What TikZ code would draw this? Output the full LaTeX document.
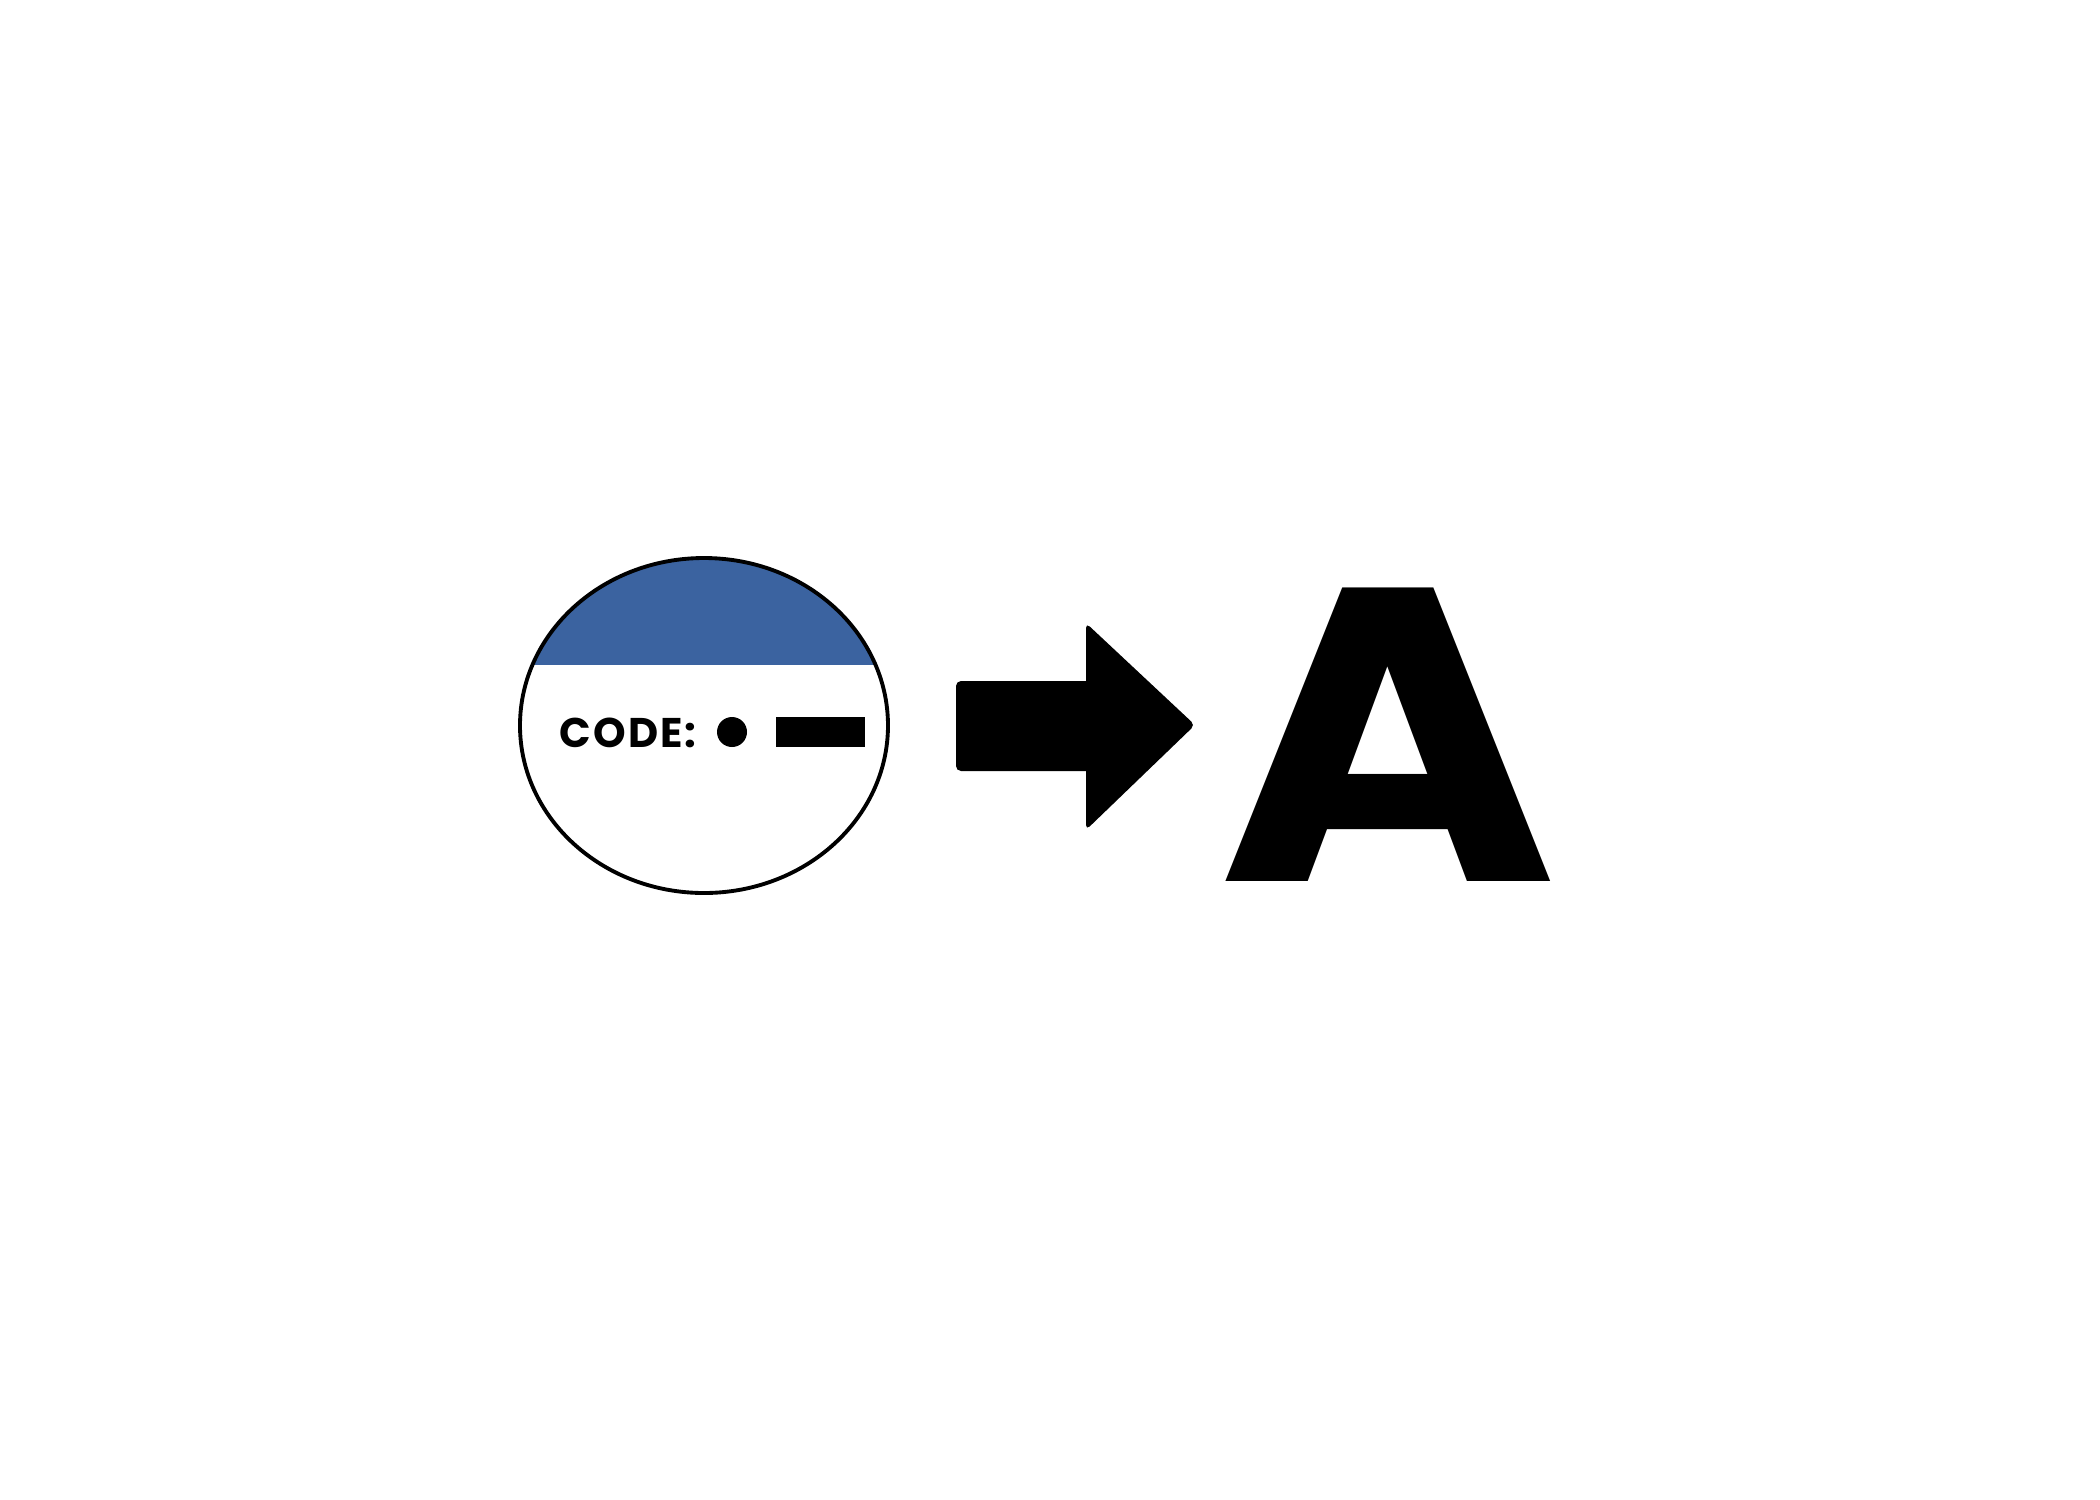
\documentclass[tikz,border=0pt]{standalone}
\usepackage{fontspec}
\setmainfont{Poppins}
\usepackage{xcolor}
\usepackage{tikz}
\usetikzlibrary{shapes,arrows,positioning}
\definecolor{capblue}{HTML}{3B63A0}

\begin{document}
\begin{tikzpicture}[
  badgeline/.style={draw, line width=1.1pt},
  blackpart/.style={fill=black, inner sep=0pt}
]
  \useasboundingbox (0,0) rectangle (21,-15);

  % blue cap of the badge
  \begin{scope}
    \clip (7.04,-7.255) ellipse [x radius=1.84cm, y radius=1.675cm];
    \fill[capblue] (5.1,-6.65) rectangle (9.0,-5.4);
  \end{scope}
  \node[badgeline, ellipse, minimum width=3.68cm, minimum height=3.35cm, inner sep=0pt] (badge) at (7.04,-7.255) {};

  \node[anchor=base west, inner sep=0pt, font=\bfseries\fontsize{11.8}{12}\selectfont\addfontfeature{LetterSpace=5}] (code) at (5.59,-7.47) {CODE:};
  \node[blackpart, circle, minimum size=0.3cm] (dot) at (7.32,-7.32) {};
  \node[blackpart, rectangle, minimum width=0.89cm, minimum height=0.3cm] (bar) at (8.205,-7.32) {};

  % big arrow: shaft and head
  \fill[rounded corners=0.05cm] (9.56,-6.81) rectangle (10.95,-7.71);
  \fill[rounded corners=0.05cm] (10.86,-6.23) -- (11.95,-7.25) -- (10.86,-8.30) -- cycle;

  \node[anchor=base, inner sep=0pt, font=\bfseries\fontsize{119}{119}\selectfont] (letter) at (13.88,-8.81) {\scalebox{1.1}[1]{A}};
\end{tikzpicture}
\end{document}
